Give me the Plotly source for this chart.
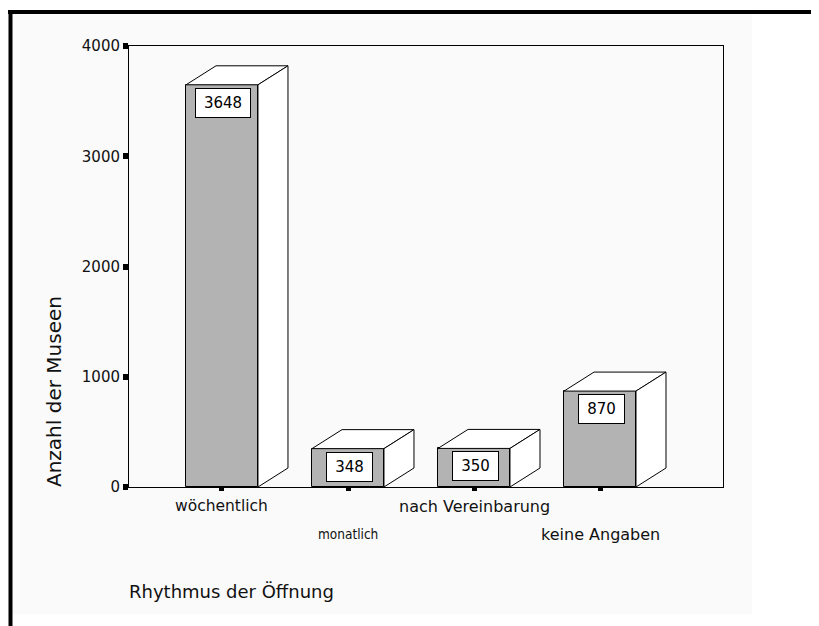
import plotly.graph_objects as go

categories = ["wöchentlich", "monatlich", "nach Vereinbarung", "keine Angaben"]
counts = [3648, 348, 350, 870]
y_ticks = [0, 1000, 2000, 3000, 4000]
x_title = "Rhythmus der Öffnung"
y_title = "Anzahl der Museen"

OFF = 8  # page body margin
W, H = 819 - OFF, 626 - OFF
# plot area in screen pixels
SL, SR, ST, SB = 129, 723, 46, 487
L, R, T, B = SL - OFF, SR - OFF, ST - OFF, SB - OFF
xr = [-0.738, 3.976]
yr = [0, 4000]

def px(xs_):
    return (xs_ - SL) / (SR - SL)

def py(ys_):
    return (SB - ys_) / (SB - ST)

bar_w = 0.571
dx = 30 / 126.0
dy = 19 * (yr[1] - yr[0]) / (SB - ST)

fig = go.Figure()
xs = list(range(len(categories)))

fig.add_trace(go.Bar(x=xs, y=counts, width=bar_w,
                     marker=dict(color="#b3b3b3", line=dict(color="black", width=1)),
                     hoverinfo="skip", showlegend=False))

for i, v in zip(xs, counts):
    x0, x1 = i - bar_w / 2, i + bar_w / 2
    fig.add_trace(go.Scatter(x=[x0, x1, x1 + dx, x0 + dx, x0], y=[v, v, v + dy, v + dy, v],
                             mode="lines", fill="toself", fillcolor="white",
                             line=dict(color="black", width=1), hoverinfo="skip", showlegend=False))
    fig.add_trace(go.Scatter(x=[x1, x1 + dx, x1 + dx, x1, x1], y=[0, dy, v + dy, v, 0],
                             mode="lines", fill="toself", fillcolor="white",
                             line=dict(color="black", width=1), hoverinfo="skip", showlegend=False))

annotations = []
for i, v in zip(xs, counts):
    s = str(v)
    annotations.append(dict(x=i, y=v, xref="x", yref="y", text=s, showarrow=False,
                            yanchor="top", yshift=-3, xshift=1,
                            font=dict(family="DejaVu Sans", size=15, color="black"),
                            bgcolor="white", bordercolor="black", borderwidth=1, borderpad=0,
                            width=len(s) * 9 + 18, height=28))

label_rows = [0, 1, 0, 1]
label_fonts = ["DejaVu Sans", "DejaVu Sans Condensed", "DejaVu Sans", "DejaVu Sans"]
label_sizes = [15.5, 13.5, 16, 16]
for i, (c, row, fam, sz) in enumerate(zip(categories, label_rows, label_fonts, label_sizes)):
    annotations.append(dict(x=i, y=0, xref="x", yref="paper", text=c, showarrow=False,
                            yanchor="middle", yshift=-19 - 28 * row,
                            font=dict(family=fam, size=sz, color="#111")))

annotations.append(dict(x=px(127), y=py(591), xref="paper", yref="paper", text=x_title,
                        showarrow=False, xanchor="left", yanchor="middle",
                        font=dict(family="DejaVu Sans", size=18, color="#111")))
annotations.append(dict(x=px(54), y=py(392), xref="paper", yref="paper", text=y_title,
                        showarrow=False, xanchor="center", yanchor="middle", textangle=-90,
                        font=dict(family="DejaVu Sans", size=20, color="#111")))

shapes = [
    dict(type="rect", xref="paper", yref="paper", x0=px(12), x1=px(752), y0=py(614), y1=py(13),
         fillcolor="#fafafa", line=dict(width=0), layer="below"),
    dict(type="rect", xref="paper", yref="paper", x0=px(8), x1=px(830), y0=py(14), y1=py(10),
         fillcolor="black", line=dict(width=0), layer="above"),
    dict(type="rect", xref="paper", yref="paper", x0=px(8.5), x1=px(12.5), y0=py(640), y1=py(10),
         fillcolor="black", line=dict(width=0), layer="above"),
]

fig.update_layout(
    width=W, height=H,
    margin=dict(l=L, r=W - R, t=T, b=H - B, pad=0),
    paper_bgcolor="white", plot_bgcolor="rgba(0,0,0,0)",
    font=dict(family="DejaVu Sans", color="#111"),
    showlegend=False, bargap=0,
    annotations=annotations, shapes=shapes,
    xaxis=dict(range=xr, tickvals=xs, ticktext=["" for _ in xs], showticklabels=False,
               ticks="outside", ticklen=3, tickwidth=5, tickcolor="black",
               showline=True, linecolor="black", linewidth=1, mirror=True,
               showgrid=False, zeroline=False, fixedrange=True),
    yaxis=dict(range=yr, tickvals=y_ticks, ticktext=[str(t) for t in y_ticks],
               ticks="outside", ticklen=5, tickwidth=6, tickcolor="black",
               tickfont=dict(family="DejaVu Sans", size=15, color="#111"),
               showline=True, linecolor="black", linewidth=1, mirror=True,
               showgrid=False, zeroline=False, fixedrange=True),
)

fig.write_html("out.html")
